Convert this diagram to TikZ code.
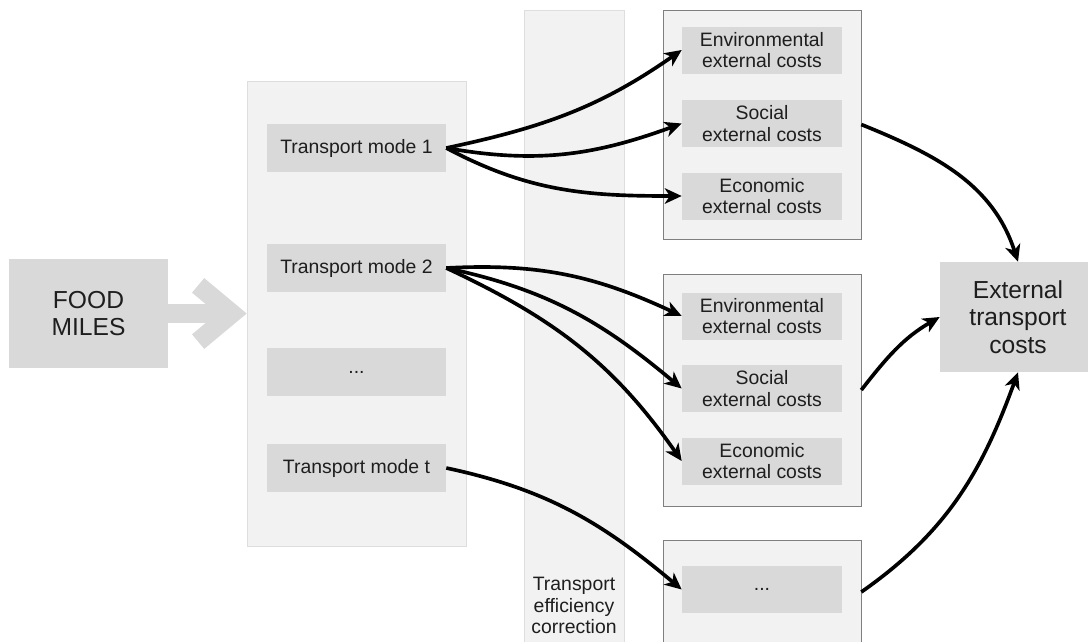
\documentclass[tikz,border=0pt]{standalone}
\usepackage{fontspec}
\setmainfont{Liberation Sans}
\usepackage{tikz}
\usetikzlibrary{arrows.meta}
\tikzset{>=Stealth}

\definecolor{panelgray}{HTML}{F2F2F2}
\definecolor{boxgray}{HTML}{D9D9D9}
\definecolor{rimgray}{HTML}{DEDEDE}
\definecolor{framegray}{HTML}{7F7F7F}
\definecolor{textgray}{HTML}{1E1E1E}

\begin{document}
\begin{tikzpicture}[x=0.025cm, y=0.025cm,
    panel/.style={draw=rimgray, fill=panelgray, inner sep=0pt},
    group/.style={draw=framegray, fill=panelgray, inner sep=0pt, minimum width=4.95cm},
    modebox/.style={fill=boxgray, text=textgray, inner sep=0pt, minimum width=4.475cm, minimum height=1.2cm, font=\fontsize{13.8}{15.5}\selectfont},
    costbox/.style={fill=boxgray, text=textgray, align=center, inner sep=0pt, minimum width=4cm, minimum height=1.175cm, font=\fontsize{13.8}{15.5}\selectfont},
    bigbox/.style={fill=boxgray, text=textgray, align=center, inner sep=0pt, font=\fontsize{17.5}{19.5}\selectfont},
    flow/.style={-{Stealth[length=12pt, width=11pt, inset=3.5pt]}, line width=2.6pt, black},
    bulk/.style={-{Straight Barb[length=24pt, width=40pt]}, line width=13.5pt, draw=boxgray}
]
    \clip (0,-641) rectangle (1088,0);
    % panels
    \node[bigbox, minimum width=3.975cm, minimum height=2.725cm] at (88.5,-313.5) (food) {FOOD\\MILES};
    \node[panel, minimum width=5.475cm, minimum height=11.625cm] at (356.5,-313.5) (modes) {};
    \node[panel, minimum width=2.5cm, minimum height=16cm] at (574,-330) (strip) {};
    \node[text=textgray, align=center, font=\fontsize{13.8}{15}\selectfont] at (574,-605.5) (stripl) {Transport\\efficiency\\correction};
    \node[group, minimum height=5.725cm] at (762,-124.5) (group1) {};
    \node[group, minimum height=5.8cm] at (762,-390) (group2) {};
    \node[group, minimum height=2.6cm] at (762,-592) (group3) {};
    \node[bigbox, minimum width=3.9cm, minimum height=2.75cm] at (1018,-317) (ext) {External\\transport\\costs};
    % transport modes
    \node[modebox] at (356.5,-148) (mode1) {Transport mode 1};
    \node[modebox] at (356.5,-268) (mode2) {Transport mode 2};
    \node[modebox] at (356.5,-372) (modedots) {...};
    \node[modebox] at (356.5,-468) (modet) {Transport mode t};
    % external costs
    \node[costbox] at (762,-50) (env1) {Environmental\\external costs};
    \node[costbox] at (762,-123.5) (soc1) {Social\\external costs};
    \node[costbox] at (762,-196) (eco1) {Economic\\external costs};
    \node[costbox] at (762,-316) (env2) {Environmental\\external costs};
    \node[costbox] at (762,-388.5) (soc2) {Social\\external costs};
    \node[costbox] at (762,-461) (eco2) {Economic\\external costs};
    \node[costbox] at (762,-589.5) (dots3) {...};
    % connectors
    \draw[bulk] (food.east) -- (modes.west);
    \path[flow]
    (mode1.east) edge [out=12, in=215] (env1.west)
    (mode1.east) edge [out=-10, in=200] (soc1.west)
    (mode1.east) edge [out=-28, in=180] (eco1.west)
    (mode2.east) edge [out=3, in=155] (env2.west)
    (mode2.east) edge [out=-12, in=140] (soc2.west)
    (mode2.east) edge [out=-25, in=125] (eco2.west)
    (modet.east) edge [out=-12, in=140] (dots3.west)
    (group1.east) edge [out=-22, in=108] (ext.north)
    (group2.east) edge [out=52, in=210] (ext.west)
    (group3.east) edge [out=35, in=250] (ext.south)
    ;
\end{tikzpicture}
\end{document}
